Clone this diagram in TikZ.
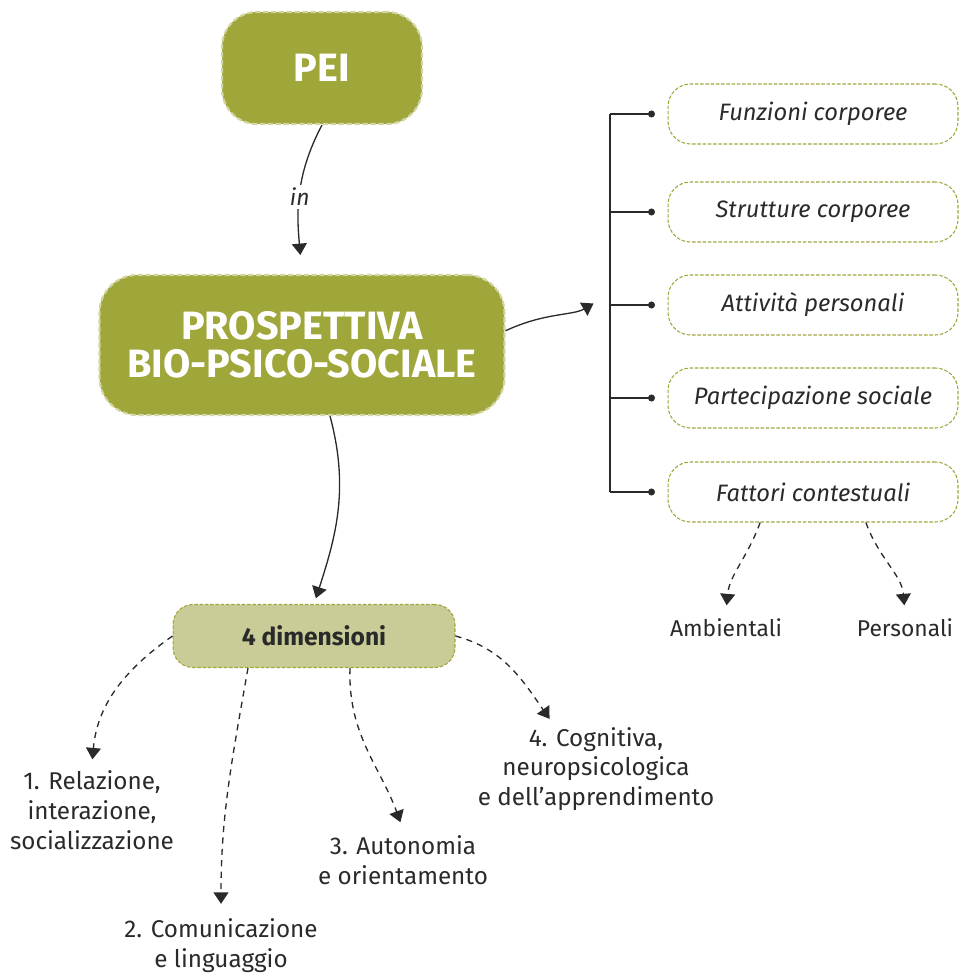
\documentclass[tikz,border=0pt]{standalone}
\usepackage{fontspec}
\setmainfont{Fira Sans}
\usetikzlibrary{arrows.meta}
\definecolor{olive}{HTML}{9FA63A}
\definecolor{olivelight}{HTML}{C9CC96}
\definecolor{olivedash}{HTML}{D3D6A2}
\definecolor{ink}{HTML}{2A2A2A}

\begin{document}
\begin{tikzpicture}[x=0.02cm,y=-0.02cm,
bigbox/.style = {rectangle, rounded corners=0.7cm, fill=olive, draw=olivedash, line width=1.2pt,
  dash pattern=on 3pt off 1.5pt, text=white, align=center, font=\bfseries\fontsize{22.5}{21.6}\selectfont},
sidebox/.style = {rectangle, rounded corners=0.45cm, draw=olive, line width=0.6pt, dash pattern=on 2pt off 1pt,
  minimum width=5.8cm, minimum height=1.2cm, text=ink, font=\itshape\fontsize{13.5}{15}\selectfont},
dimbox/.style = {rectangle, rounded corners=0.4cm, fill=olivelight, draw=olive, line width=0.6pt,
  dash pattern=on 2pt off 1pt, minimum width=5.64cm, minimum height=1.26cm, text=ink,
  font=\bfseries\fontsize{14}{16}\selectfont},
lbl/.style = {text=ink, align=center, font=\fontsize{13}{17}\selectfont},
dimlbl/.style = {lbl, font=\fontsize{13.8}{17}\selectfont},
dot/.style = {circle, fill=ink, inner sep=0pt, minimum size=4pt},
arr/.style = {draw=ink, line width=0.75pt, -{Triangle[length=6.5pt,width=8.5pt]}},
darr/.style = {arr, dash pattern=on 3.5pt off 3pt}]
\useasboundingbox (0,0) rectangle (962,976);

\node[bigbox, minimum width=4cm, minimum height=2.24cm] (pei) at (322,68) {PEI};
\node[bigbox, minimum width=8.1cm, minimum height=2.8cm, rounded corners=0.75cm] (prosp) at (302,345)
  {PROSPETTIVA\\BIO-PSICO-SOCIALE};

\node[sidebox] (fun) at (813,114) {Funzioni corporee};
\node[sidebox] (str) at (813,212) {Strutture corporee};
\node[sidebox] (att) at (813,305) {Attività personali};
\node[sidebox] (par) at (813,398) {Partecipazione sociale};
\node[sidebox] (fat) at (813,492) {Fattori contestuali};

\node[lbl] (amb) at (726,628) {Ambientali};
\node[lbl] (pers) at (905,628) {Personali};

\node[dimbox] (dim) at (314,636) {4 dimensioni};
\node[dimlbl] (rel) at (92,810) {1. Relazione,\\interazione,\\socializzazione};
\node[dimlbl] (com) at (221,946) {2. Comunicazione\\e linguaggio};
\node[dimlbl] (aut) at (403,860) {3. Autonomia\\e orientamento};
\node[dimlbl] (cog) at (596,769) {4. Cognitiva,\\neuropsicologica\\e dell’apprendimento};

\foreach \n in {fun,str,att,par,fat}
  \node[dot, xshift=-0.32cm] (d\n) at (\n.west) {};
\coordinate (brk) at (610,294);
\draw[ink, line width=0.75pt] (dfun.center -| brk) -- (dfat.center -| brk);
\foreach \n in {fun,str,att,par,fat}
  \draw[ink, line width=0.75pt] (d\n.center -| brk) -- (d\n.center);

\draw[arr, shorten >=0.38cm] (pei.south) to[out=-118,in=95]
  node[fill=white, inner sep=2pt, text=ink, font=\itshape\fontsize{13}{15}\selectfont] {in} (prosp.north);
\draw[arr, shorten >=0.38cm] (prosp.4) to[out=25,in=210] (brk);
\draw[arr, shorten >=0.12cm] ([xshift=0.56cm]prosp.south) to[out=-75,in=72] (dim.north);

\draw[darr, shorten >=0.15cm] (fat.-150) to[out=-110,in=85] (amb.north);
\draw[darr, shorten >=0.15cm] (fat.-30) to[out=-70,in=95] (pers.north);

\draw[darr, shorten >=0.1cm] (dim.west) to[out=215,in=85] (rel.north);
\draw[darr, shorten >=0.18cm] ([xshift=-1.32cm]dim.south) to[out=-100,in=90] (com.north);
\draw[darr, shorten >=0.15cm] ([xshift=0.72cm]dim.south) to[out=-92,in=110] (aut.north);
\draw[darr, shorten >=0.05cm] (dim.east) to[out=-15,in=125] ([xshift=-0.9cm]cog.north);
\end{tikzpicture}
\end{document}
